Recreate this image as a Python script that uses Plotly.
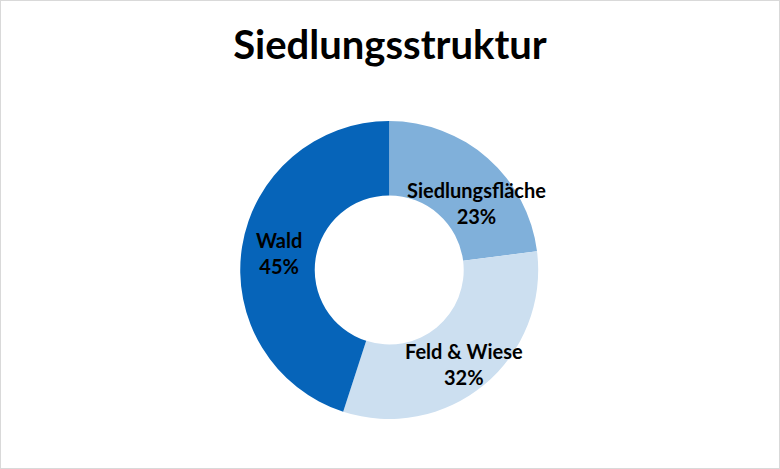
import math
import plotly.graph_objects as go

# Siedlungsstruktur - Anteile der Flächennutzung
categories = ["Siedlungsfläche", "Feld & Wiese", "Wald"]
shares = [23, 32, 45]
slice_colors = ["#80B0DA", "#CCDFF0", "#0664B9"]

# Lage des Rings (Papierkoordinaten) und Feinjustierung der Beschriftung in px
PIE_X = [0.308, 0.690]
PIE_Y = [0.1066, 0.742]
W, H = 780, 469
label_radius = 0.75
label_nudge = {"Siedlungsfläche": (13, -17), "Feld & Wiese": (4, -8), "Wald": (0, 0)}

fig = go.Figure()

fig.add_trace(go.Pie(
    labels=categories,
    values=shares,
    hole=0.5,
    sort=False,
    direction="clockwise",
    rotation=0,
    marker=dict(colors=slice_colors, line=dict(width=0)),
    textinfo="none",
    domain=dict(x=PIE_X, y=PIE_Y),
    showlegend=False,
    hoverinfo="label+percent",
))

# Beschriftungen auf der Winkelhalbierenden jedes Segments
cx = sum(PIE_X) / 2
cy = sum(PIE_Y) / 2
r_px = (PIE_Y[1] - PIE_Y[0]) * H / 2
total = sum(shares)
cum = 0
for name, val in zip(categories, shares):
    mid = 2 * math.pi * (cum + val / 2) / total
    cum += val
    dx, dy = label_nudge[name]
    fig.add_annotation(
        x=cx + label_radius * r_px * math.sin(mid) / W,
        y=cy + label_radius * r_px * math.cos(mid) / H,
        xref="paper", yref="paper",
        xanchor="center", yanchor="middle",
        text=f"{name}<br>{round(100 * val / total)}%",
        showarrow=False,
        xshift=dx, yshift=dy,
        font=dict(family="Lato", size=20, color="black", weight="bold"),
    )

fig.update_layout(
    width=W,
    height=H,
    margin=dict(l=0, r=0, t=0, b=0),
    paper_bgcolor="white",
    plot_bgcolor="white",
    title=dict(
        text="<b>Siedlungsstruktur</b>",
        x=0.5,
        xanchor="center",
        y=0.905,
        yanchor="middle",
        font=dict(family="Lato", size=40, color="black"),
    ),
    # feiner grauer Rahmen um das Diagramm
    shapes=[dict(type="rect", xref="paper", yref="paper", x0=0, y0=0, x1=1, y1=1,
                 line=dict(color="#D9D9D9", width=2))],
)

# Browser-Standardrand entfernen, damit die Grafik bündig im Fenster sitzt
fig.write_html("out.html", config={"displayModeBar": False},
               post_script="document.body.style.margin='0';")
